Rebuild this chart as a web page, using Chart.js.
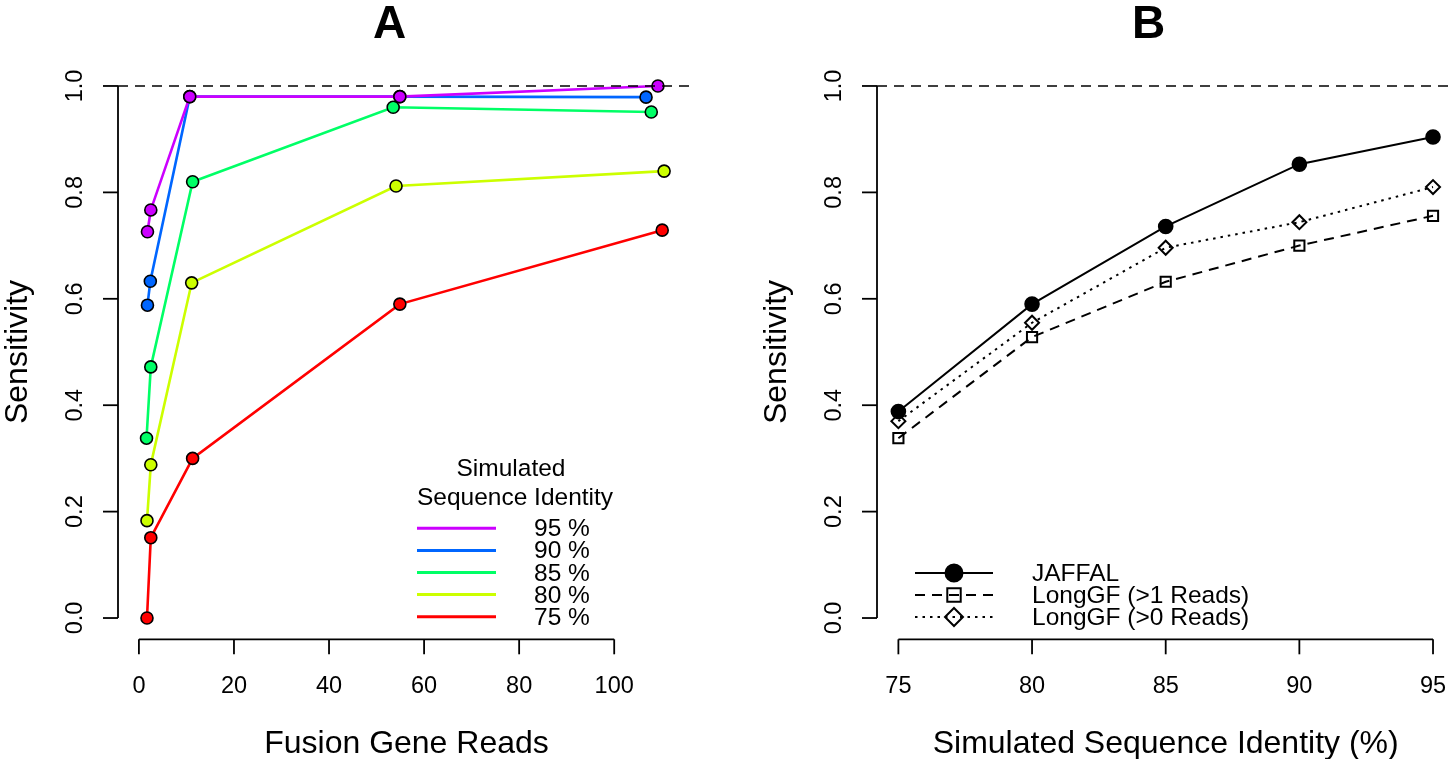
<!DOCTYPE html>
<html><head><meta charset="utf-8">
<script src="https://cdn.jsdelivr.net/npm/chart.js@4.4.1/dist/chart.umd.min.js"></script>
<style>
html,body{margin:0;padding:0;background:#fff;}
#wrap{position:relative;width:1455px;height:759px;overflow:hidden;background:#fff}
canvas{position:absolute;top:0}
</style>
</head><body>
<div id="wrap">
<canvas id="cA" width="727" height="759" style="left:0px"></canvas>
<canvas id="cB" width="728" height="759" style="left:727px"></canvas>
</div>
<script>
// ---------- Panel A data ----------
const seriesLabels = ['95 %', '90 %', '85 %', '80 %', '75 %'];
const seriesColors = ['#CC00FF', '#0066FF', '#00FF66', '#CCFF00', '#FF0000'];
const readsX95 = [1.8, 2.5, 10.7, 54.9, 109.2];
const sens95   = [0.726, 0.767, 0.980, 0.980, 1.000];
const readsX90 = [1.8, 2.4, 10.7, 54.9, 106.7];
const sens90   = [0.588, 0.633, 0.980, 0.980, 0.979];
const readsX85 = [1.6, 2.5, 11.3, 53.5, 107.8];
const sens85   = [0.338, 0.472, 0.820, 0.960, 0.951];
const readsX80 = [1.7, 2.5, 11.1, 54.1, 110.5];
const sens80   = [0.183, 0.288, 0.630, 0.812, 0.840];
const readsX75 = [1.7, 2.5, 11.3, 54.9, 110.1];
const sens75   = [0.000, 0.151, 0.300, 0.590, 0.729];
const readsTicks = [0, 20, 40, 60, 80, 100];
const sensTicks = [0, 0.2, 0.4, 0.6, 0.8, 1.0];
const legendTitleA = ['Simulated', 'Sequence Identity'];

// ---------- Panel B data ----------
const identity = [75, 80, 85, 90, 95];
const jaffal   = [0.388, 0.590, 0.736, 0.853, 0.904];
const longgf1  = [0.338, 0.528, 0.632, 0.700, 0.756];
const longgf0  = [0.370, 0.555, 0.696, 0.744, 0.810];
const identityTicks = [75, 80, 85, 90, 95];
const methodLabels = ['JAFFAL', 'LongGF (>1 Reads)', 'LongGF (>0 Reads)'];

const FONT = '"Liberation Sans", Arial, Helvetica, sans-serif';
const TICK_FS = 23.5, LAB_FS = 32, TITLE_FS = 46, LEG_FS = 24.5;

function makePanelPlugin(spec) {
  return {
    id: 'rPanel',
    afterDatasetsDraw(chart) {
      const ctx = chart.ctx;
      const xs = chart.scales.x, ys = chart.scales.y, ca = chart.chartArea;
      ctx.save();
      // reference dashed line
      ctx.strokeStyle = '#000';
      ctx.lineWidth = 1.6;
      ctx.setLineDash([10, 7]);
      const yr = ys.getPixelForValue(spec.refLine);
      ctx.beginPath(); ctx.moveTo(ca.left, yr); ctx.lineTo(ca.right, yr); ctx.stroke();
      ctx.setLineDash([]);
      // axes
      ctx.lineWidth = 1.8;
      const ax = ca.left, ay = ca.bottom, tl = 15;
      const y0 = ys.getPixelForValue(spec.yTicks[0]);
      const y1 = ys.getPixelForValue(spec.yTicks[spec.yTicks.length - 1]);
      ctx.beginPath(); ctx.moveTo(ax, y0); ctx.lineTo(ax, y1); ctx.stroke();
      spec.yTicks.forEach(v => {
        const p = ys.getPixelForValue(v);
        ctx.beginPath(); ctx.moveTo(ax - tl, p); ctx.lineTo(ax, p); ctx.stroke();
      });
      const x0 = xs.getPixelForValue(spec.xTicks[0]);
      const x1 = xs.getPixelForValue(spec.xTicks[spec.xTicks.length - 1]);
      ctx.beginPath(); ctx.moveTo(x0, ay); ctx.lineTo(x1, ay); ctx.stroke();
      spec.xTicks.forEach(v => {
        const p = xs.getPixelForValue(v);
        ctx.beginPath(); ctx.moveTo(p, ay); ctx.lineTo(p, ay + tl); ctx.stroke();
      });
      // tick labels
      ctx.fillStyle = '#000';
      ctx.font = TICK_FS + 'px ' + FONT;
      ctx.textAlign = 'center'; ctx.textBaseline = 'alphabetic';
      spec.xTicks.forEach(v => {
        ctx.fillText(spec.xFmt(v), xs.getPixelForValue(v), ay + 54);
      });
      spec.yTicks.forEach(v => {
        ctx.save();
        ctx.translate(ax - 44, ys.getPixelForValue(v));
        ctx.rotate(-Math.PI / 2);
        ctx.fillText(spec.yFmt(v), 0, 0.36 * TICK_FS);
        ctx.restore();
      });
      // axis titles
      ctx.font = LAB_FS + 'px ' + FONT;
      const midX = (ca.left + ca.right) / 2, midY = (ca.top + ca.bottom) / 2;
      ctx.fillText(spec.xTitle, midX, ay + 114);
      ctx.save();
      ctx.translate(ax - 103, midY);
      ctx.rotate(-Math.PI / 2);
      ctx.fillText(spec.yTitle, 0, 0.36 * LAB_FS);
      ctx.restore();
      // panel title
      ctx.font = 'bold ' + TITLE_FS + 'px ' + FONT;
      ctx.fillText(spec.title, midX - 17, 38);
      ctx.restore();
      spec.legend(chart);
    }
  };
}

function legendA(chart) {
  const ctx = chart.ctx;
  ctx.save();
  ctx.fillStyle = '#000';
  ctx.font = LEG_FS + 'px ' + FONT;
  ctx.textAlign = 'center';
  ctx.textBaseline = 'alphabetic';
  ctx.fillText(legendTitleA[0], 511, 476);
  ctx.fillText(legendTitleA[1], 515, 505);
  ctx.textAlign = 'left';
  chart.data.datasets.forEach((ds, i) => {
    const y = 528.3 + i * 22.1;
    ctx.strokeStyle = ds.borderColor;
    ctx.lineWidth = 3;
    ctx.beginPath(); ctx.moveTo(417, y); ctx.lineTo(496, y); ctx.stroke();
    ctx.fillStyle = '#000';
    ctx.fillText(ds.label, 534, y + 8);
  });
  ctx.restore();
}

function legendB(chart) {
  const ctx = chart.ctx;
  ctx.save();
  ctx.font = LEG_FS + 'px ' + FONT;
  ctx.textAlign = 'left';
  ctx.textBaseline = 'alphabetic';
  chart.data.datasets.forEach((ds, i) => {
    const y = 573 + i * 22;
    ctx.strokeStyle = '#000';
    ctx.lineWidth = 2;
    ctx.setLineDash(ds.borderDash || []);
    ctx.beginPath(); ctx.moveTo(915 - 727, y); ctx.lineTo(993 - 727, y); ctx.stroke();
    ctx.setLineDash([]);
    ctx.fillStyle = ds.pointBackgroundColor;
    ctx.strokeStyle = '#000';
    ctx.lineWidth = 2;
    Chart.helpers.drawPoint(ctx, {
      pointStyle: ds.pointStyle, radius: ds.legendRadius, rotation: 0, borderWidth: 2
    }, 954 - 727, y);
    ctx.fillStyle = '#000';
    ctx.fillText(ds.label, 1032 - 727, y + 8);
  });
  ctx.restore();
}

const commonOpts = {
  responsive: false, animation: false, devicePixelRatio: 1, events: [],
  plugins: { legend: { display: false }, tooltip: { enabled: false }, title: { display: false } }
};

// ---------- Chart A ----------
const readsXAll = [readsX95, readsX90, readsX85, readsX80, readsX75];
const sensAll = [sens95, sens90, sens85, sens80, sens75];
const datasetsA = seriesLabels.map((lab, i) => ({
  label: lab,
  data: readsXAll[i].map((x, j) => ({ x: x, y: sensAll[i][j] })),
  borderColor: seriesColors[i],
  backgroundColor: seriesColors[i],
  pointBackgroundColor: seriesColors[i],
  pointBorderColor: '#000',
  pointBorderWidth: 1.6,
  pointRadius: 6,
  borderWidth: 2.6,
  tension: 0,
  clip: false
}));

new Chart(document.getElementById('cA'), {
  type: 'line',
  data: { datasets: datasetsA },
  options: Object.assign({}, commonOpts, {
    layout: { autoPadding: false, padding: { left: 118, right: 32, top: 64.7, bottom: 119.7 } },
    scales: {
      x: { type: 'linear', min: -4.4, max: 117, display: false },
      y: { type: 'linear', min: -0.04, max: 1.04, display: false }
    }
  }),
  plugins: [makePanelPlugin({
    xTicks: readsTicks, yTicks: sensTicks,
    xFmt: v => String(v), yFmt: v => v.toFixed(1),
    xTitle: 'Fusion Gene Reads', yTitle: 'Sensitivity', title: 'A',
    refLine: 1.0, legend: legendA
  })]
});

// ---------- Chart B ----------
const methodValues = [jaffal, longgf1, longgf0];
const methodStyles = [
  { pointStyle: 'circle', pointRadius: 6.8, legendRadius: 8.5, fill: '#000', dash: [] },
  { pointStyle: 'rect', pointRadius: 7.2, legendRadius: 9.5, fill: 'rgba(0,0,0,0)', dash: [10, 7] },
  { pointStyle: 'rectRot', pointRadius: 7, legendRadius: 9, fill: 'rgba(0,0,0,0)', dash: [2.5, 5] }
];
const datasetsB = methodLabels.map((lab, i) => ({
  label: lab,
  data: identity.map((x, j) => ({ x: x, y: methodValues[i][j] })),
  borderColor: '#000',
  backgroundColor: methodStyles[i].fill,
  pointBackgroundColor: methodStyles[i].fill,
  pointBorderColor: '#000',
  pointBorderWidth: 2,
  pointStyle: methodStyles[i].pointStyle,
  pointRadius: methodStyles[i].pointRadius,
  legendRadius: methodStyles[i].legendRadius,
  borderDash: methodStyles[i].dash,
  borderWidth: 2,
  tension: 0,
  clip: false
}));

new Chart(document.getElementById('cB'), {
  type: 'line',
  data: { datasets: datasetsB },
  options: Object.assign({}, commonOpts, {
    layout: { autoPadding: false, padding: { left: 150, right: 0.6, top: 64.7, bottom: 119.7 } },
    scales: {
      x: { type: 'linear', min: 74.2, max: 95.8, display: false },
      y: { type: 'linear', min: -0.04, max: 1.04, display: false }
    }
  }),
  plugins: [makePanelPlugin({
    xTicks: identityTicks, yTicks: sensTicks,
    xFmt: v => String(v), yFmt: v => v.toFixed(1),
    xTitle: 'Simulated Sequence Identity (%)', yTitle: 'Sensitivity', title: 'B',
    refLine: 1.0, legend: legendB
  })]
});
</script>
</body></html>
